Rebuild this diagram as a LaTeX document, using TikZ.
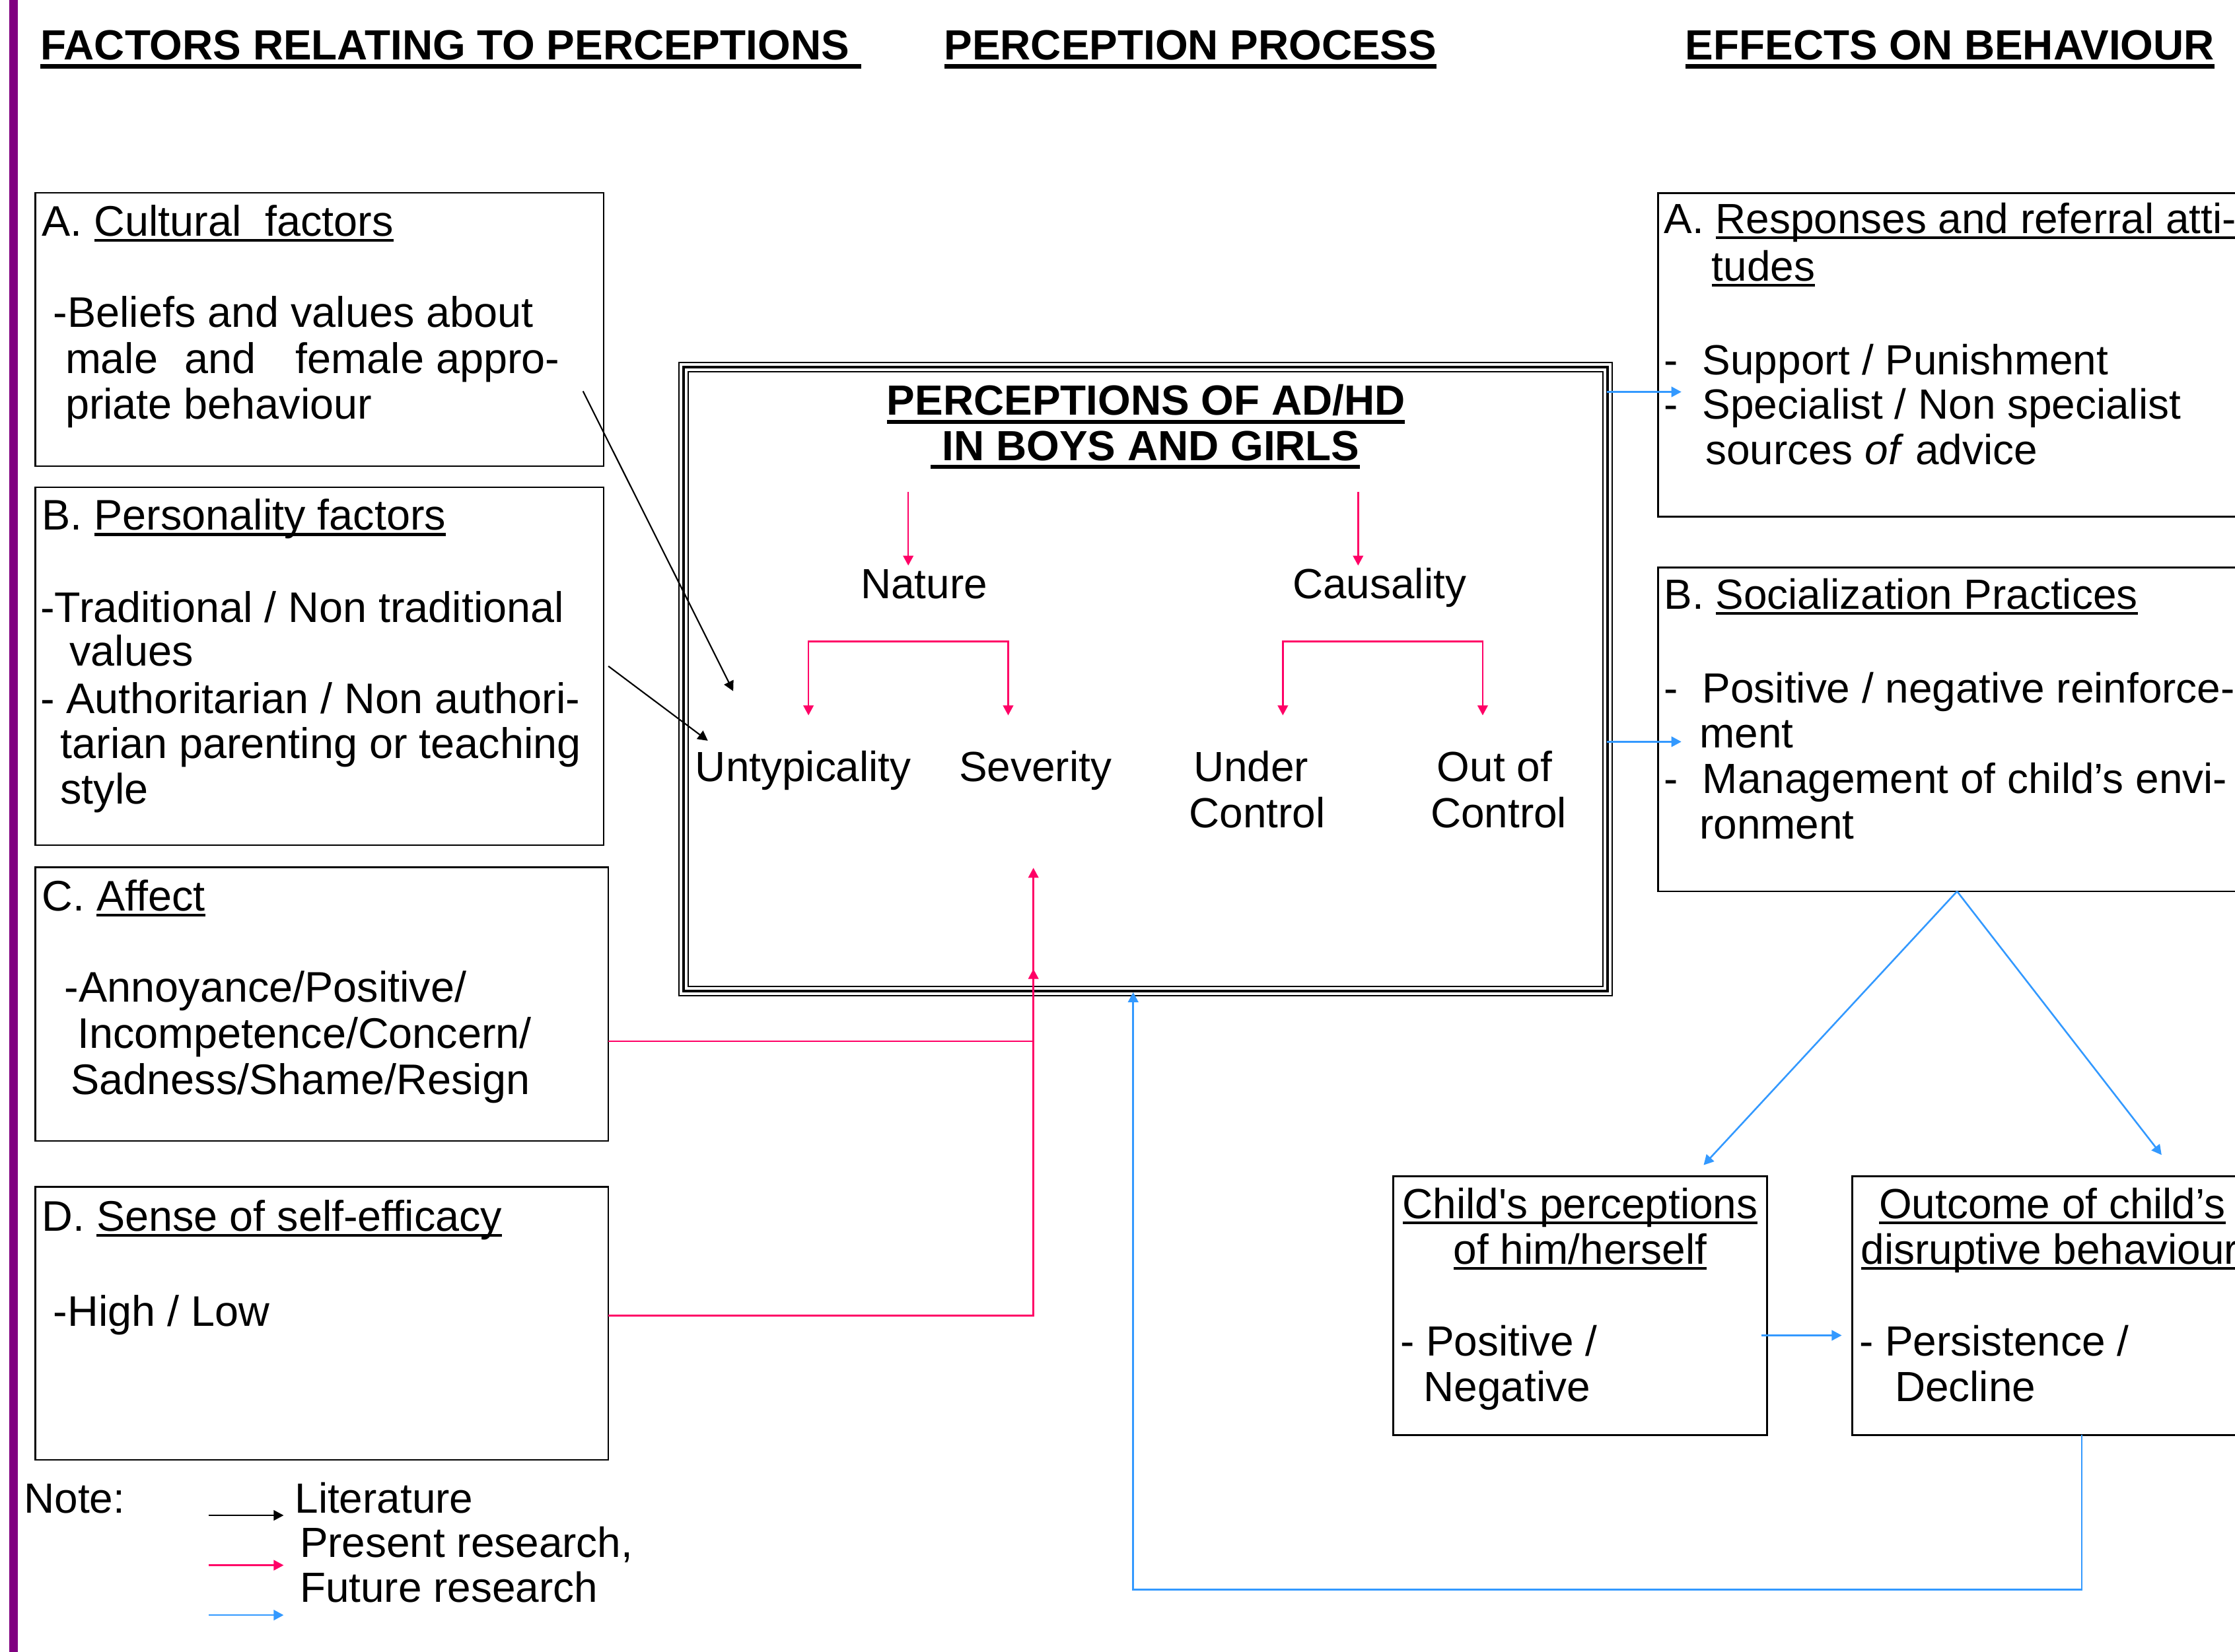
\documentclass[tikz,border=0pt]{standalone}
\usepackage{fontspec}
\setmainfont{Liberation Sans}[Ligatures=TeXOff]
\usetikzlibrary{arrows.meta,fit}

\definecolor{pinkline}{RGB}{255,0,102}
\definecolor{blueline}{RGB}{51,153,255}
\definecolor{purplebar}{RGB}{128,0,128}

% underlined text, plain and bold
\newcommand{\undl}[1]{\setbox0\hbox{#1}\rlap{\rule[-2pt]{\wd0}{0.95pt}}\box0}
\newcommand{\undlb}[1]{\setbox0\hbox{\bfseries #1}\rlap{\rule[-3.1pt]{\wd0}{1.55pt}}\box0}

\tikzset{
	box/.style={draw, line width=0.6pt, inner sep=0pt, outer sep=0pt},
	txt/.style={anchor=base west, inner sep=0pt},
	ltxt/.style={txt, font=\fontsize{15}{16}\selectfont},
	ctxt/.style={anchor=base, inner sep=0pt},
	headtip/.style={-{Triangle[length=3.5pt,width=3.6pt]}},
	litarrow/.style={headtip, line width=0.5pt, black},
	prarrow/.style={headtip, line width=0.6pt, pinkline},
	frarrow/.style={headtip, line width=0.6pt, blueline},
}

\begin{document}
\begin{tikzpicture}[x=0.5pt,y=0.5pt,yscale=-1,xscale=1,font=\fontsize{14.8}{16}\selectfont]
		\clip (0,0) rectangle (1568,1158.9);
		
		%Purple bar
		\draw [purplebar, line width=3pt] (9.4,-5) -- (9.4,1165);
		
		% Column headers
		\node [txt] (hfact) at (28,42) {\undlb{FACTORS RELATING TO PERCEPTIONS\ }};
		\node [txt] (hproc) at (662,42) {\undlb{PERCEPTION PROCESS}};
		\node [txt] (heff) at (1182,42) {\undlb{EFFECTS ON BEHAVIOUR}};
		
		%Left boxes
		\node [box, fit={(24.7,135.3) (423.5,327.2)}] (cultural) {};
		\node [box, fit={(24.7,342) (423.5,593)}] (personal) {};
		\node [box, fit={(24.7,608.6) (426.8,800.6)}] (affect) {};
		\node [box, fit={(24.7,832.8) (426.8,1024.4)}] (efficacy) {};
		
		% Text Node
		\node [ltxt] (cult1) at (29,165.8) {A. \undl{Cultural\ \ factors}};
		\node [ltxt] (cult2) at (37,229.6) {-Beliefs and values about};
		\node [ltxt] (cult3) at (45.5,262.1) {male\hspace{9.2pt}and\hspace{14.1pt}female appro-};
		\node [ltxt] (cult4) at (45.5,293.8) {priate behaviour};
		% Text Node
		\node [ltxt] (pers1) at (29,372) {B. \undl{Personality factors}};
		\node [ltxt] (pers2) at (28,436.5) {-Traditional / Non traditional};
		\node [ltxt] (pers3) at (48.5,467.5) {values};
		\node [ltxt] (pers4) at (28,500.6) {- Authoritarian / Non authori-};
		\node [ltxt] (pers5) at (42,532.2) {tarian parenting or teaching};
		\node [ltxt] (pers6) at (42,564.2) {style};
		% Text Node
		\node [ltxt] (aff1) at (29,639) {C. \undl{Affect}};
		\node [ltxt] (aff2) at (45,703.2) {-Annoyance/Positive/};
		\node [ltxt] (aff3) at (54,735.7) {Incompetence/Concern/};
		\node [ltxt] (aff4) at (49.5,768.2) {Sadness/Shame/Resign};
		% Text Node
		\node [ltxt] (eff1) at (29,863.8) {D. \undl{Sense of self-efficacy}};
		\node [ltxt] (eff2) at (37,930.5) {-High / Low};
		
		% Legend
		\node [txt] (note) at (16.5,1061.6) {Note:};
		\node [txt] (lit) at (206.5,1061.6) {Literature};
		\node [txt] (pres) at (210,1093) {Present research,};
		\node [txt] (fut) at (210,1124.3) {Future research};
		\coordinate (k1a) at (146.3,1063.4);
		\coordinate (k1b) at (199,1063.4);
		\coordinate (k2a) at (146.3,1098.4);
		\coordinate (k2b) at (199,1098.4);
		\coordinate (k3a) at (146.3,1133.4);
		\coordinate (k3b) at (199,1133.4);
		\draw [litarrow] (k1a) -- (k1b);
		\draw [prarrow] (k2a) -- (k2b);
		\draw [frarrow] (k3a) -- (k3b);
		
		%Perception box, triple border
		\node [box, line width=1pt, fit={(479.7,257.7) (1127.9,695.5)}] (percep) {};
		\draw [line width=0.5pt] ([shift={(-3.2,-3.2)}]percep.north west) rectangle ([shift={(3.2,3.2)}]percep.south east);
		\draw [line width=0.5pt] ([shift={(3.2,3.2)}]percep.north west) rectangle ([shift={(-3.2,-3.2)}]percep.south east);
		
		% Text Node
		\node [ctxt] (title1) at (804,291.4) {\undlb{PERCEPTIONS OF AD/HD}};
		\node [ctxt] (title2) at (803.4,323) {\undlb{\ IN BOYS AND GIRLS}};
		\node [txt] (nature) at (603.5,420) {Nature};
		\node [txt] (causal) at (906.5,420) {Causality};
		\node [txt] (untyp) at (487.5,548.5) {Untypicality};
		\node [txt] (sever) at (672.5,548.5) {Severity};
		\node [txt] (under1) at (837,548.5) {Under};
		\node [txt] (under2) at (834,581) {Control};
		\node [txt] (out1) at (1007.8,548.5) {Out of};
		\node [txt] (out2) at (1003.3,581) {Control};
		
		%Right boxes
		\node [box, fit={(1163.3,135.6) (1600,362.5)}] (respons) {};
		\node [box, fit={(1163.3,398.2) (1600,625.5)}] (social) {};
		\node [box, fit={(977.5,825.4) (1239.7,1007)}] (selfperc) {};
		\node [box, fit={(1299.6,825.4) (1577,1007)}] (outcome) {};
		
		% Text Node
		\node [txt] (resp1) at (1167,163.9) {A. \undl{Responses and referral atti-}};
		\node [txt] (resp2) at (1200.5,197) {\undl{tudes}};
		\node [txt] (resp3) at (1167,263) {-\hspace{8.6pt}Support / Punishment};
		\node [txt] (resp4) at (1167,293.9) {-\hspace{8.6pt}Specialist / Non specialist};
		\node [txt] (resp5) at (1196,325.8) {sources \textit{of} advice};
		% Text Node
		\node [txt] (soc1) at (1167,427.2) {B. \undl{Socialization Practices}};
		\node [txt] (soc2) at (1167,493.2) {-\hspace{8.6pt}Positive / negative reinforce-};
		\node [txt] (soc3) at (1192,524.7) {ment};
		\node [txt] (soc4) at (1167,556.5) {-\hspace{8.6pt}Management of child’s envi-};
		\node [txt] (soc5) at (1192,588.7) {ronment};
		% Text Node
		\node [ctxt] (self1) at (1108.6,854.9) {\undl{Child's perceptions}};
		\node [ctxt] (self2) at (1108.6,887.1) {\undl{of him/herself}};
		\node [txt] (self3) at (982,951.7) {- Positive /};
		\node [txt] (self4) at (998.5,983.6) {Negative};
		% Text Node
		\node [ctxt] (outc1) at (1439.8,854.9) {\undl{Outcome of child’s}};
		\node [ctxt] (outc2) at (1438,887.1) {\undl{disruptive behaviour}};
		\node [txt] (outc3) at (1304,951.7) {- Persistence /};
		\node [txt] (outc4) at (1329,983.6) {Decline};
		
		%Literature arrows
		\coordinate (culta) at (409,274.5);
		\coordinate (cultb) at (514.4,485);
		\coordinate (persa) at (426.8,467.5);
		\coordinate (persb) at (496.6,519.8);
		\draw [litarrow] (culta) -- (cultb);
		\draw [litarrow] (persa) -- (persb);
		
		%Present research arrows
		\coordinate (nata) at (637.2,345);
		\coordinate (natb) at (637.2,396.9);
		\coordinate (caua) at (952.8,345);
		\coordinate (caub) at (952.8,396.9);
		\draw [prarrow] (nata) -- (natb);
		\draw [prarrow] (caua) -- (caub);
		\coordinate (natl) at (567.2,502);
		\coordinate (natr) at (707.3,502);
		\coordinate (caul) at (900,502);
		\coordinate (caur) at (1040.2,502);
		\draw [prarrow, {Triangle[length=3.5pt,width=3.6pt]}-{Triangle[length=3.5pt,width=3.6pt]}] (natl) -- ++(0,-52) -| (natr);
		\draw [prarrow, {Triangle[length=3.5pt,width=3.6pt]}-{Triangle[length=3.5pt,width=3.6pt]}] (caul) -- ++(0,-52) -| (caur);
		\coordinate (affj) at (725,730.6);
		\coordinate (effj) at (725,923.3);
		\coordinate (sevtip) at (725,609);
		\coordinate (boxtip) at (725,680);
		\draw [prarrow] (affect.east |- affj) -- (affj) -- (sevtip);
		\draw [prarrow] (efficacy.east |- effj) -- (effj) -- (boxtip);
		
		%Future research arrows
		\coordinate (respa) at (1127.2,275);
		\coordinate (respb) at (1179.6,275);
		\coordinate (soca) at (1127.2,520.5);
		\coordinate (socb) at (1179.6,520.5);
		\draw [frarrow] (respa) -- (respb);
		\draw [frarrow] (soca) -- (socb);
		\coordinate (apex) at (1373,625.5);
		\coordinate (selftip) at (1195.2,817.6);
		\coordinate (outctip) at (1516.5,810.5);
		\draw [frarrow] (apex) -- (selftip);
		\draw [frarrow] (apex) -- (outctip);
		\coordinate (selfa) at (1235.7,937.1);
		\coordinate (selfb) at (1292.1,937.1);
		\draw [frarrow] (selfa) -- (selfb);
		\coordinate (backa) at (1460.4,1007);
		\coordinate (backtip) at (795,696.3);
		\draw [frarrow] (backa) -- (1460.4,1115.5) -| (backtip);
		
\end{tikzpicture}
\end{document}
